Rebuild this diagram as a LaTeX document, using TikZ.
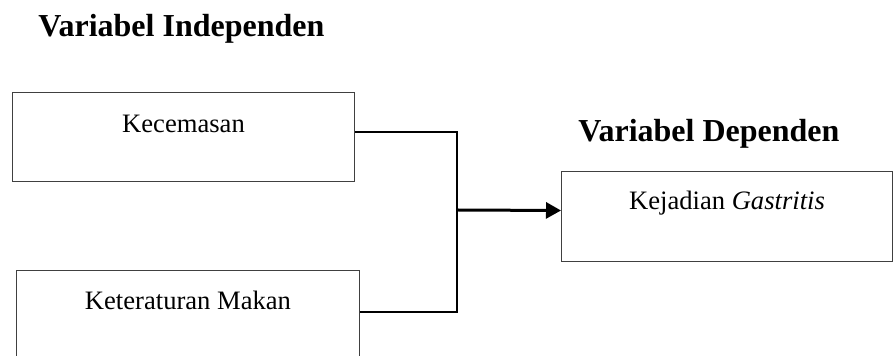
\documentclass[tikz,border=0pt]{standalone}
\usepackage{fontspec}
\setmainfont{Liberation Serif}
\usetikzlibrary{arrows.meta}
\begin{document}
\begin{tikzpicture}[x=0.5pt,y=-0.5pt,
  varbox/.style={draw=black!75, line width=0.5pt, inner sep=0pt,
    font=\fontsize{13.3}{16}\selectfont, anchor=north west},
  heading/.style={font=\bfseries\fontsize{16}{19}\selectfont, anchor=base west, inner sep=0pt},
  link/.style={line width=1pt},
  mainarrow/.style={line width=1.5pt, -{Triangle[length=7.5pt,width=8pt]}}]
\useasboundingbox (0,0) rectangle (893,356);
% headings
\node[heading] (hind) at (38,37) {Variabel Independen};
\node[heading] (hdep) at (578,142) {Variabel Dependen};
% variable boxes
\node[varbox, minimum width=171pt, text height=20pt, text depth=24.5pt] (kec) at (12,92) {Kecemasan};
\node[varbox, minimum width=171.5pt, text height=19.5pt, text depth=25.5pt] (mak) at (16,270) {Keteraturan Makan};
\node[varbox, minimum width=165.5pt, text height=19pt, text depth=26pt] (gas) at (561,171) {Kejadian \textit{Gastritis}};
% connectors
\coordinate (join) at (457,210);
\draw[link] ([yshift=2.25pt]kec.east) -| (join);
\draw[link] ([yshift=1.5pt]mak.east) -| (join);
\draw[mainarrow] (join) -- ([yshift=3pt]gas.west);
\end{tikzpicture}
\end{document}
